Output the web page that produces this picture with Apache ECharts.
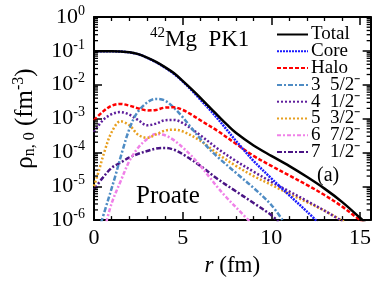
<!DOCTYPE html>
<html><head><meta charset="utf-8">
<script src="https://cdn.jsdelivr.net/npm/echarts@6/dist/echarts.min.js"></script>
<style>html,body{margin:0;padding:0;background:#fff}#c{width:374px;height:282px}</style>
</head><body><div id="c"></div>
<script>
const FONT = 'Liberation Serif';
// r (fm) grids and densities (fm^-3)
const rTotal = [0,1,2,2.5,3,3.5,4,4.5,5,5.5,6,6.5,7,7.5,8,9,10,11,12,13,14,15,15.3];
const total  = [9.8e-2,9.8e-2,9.1e-2,8.0e-2,6.3e-2,4.7e-2,3.3e-2,2.2e-2,1.3e-2,7.4e-3,4.1e-3,2.2e-3,1.2e-3,6.6e-4,3.8e-4,1.6e-4,7.9e-5,4.0e-5,1.9e-5,8.5e-6,3.4e-6,1.17e-6,8.3e-7];
const rCore = [0,1,2,2.5,3,3.5,4,4.5,5,5.5,6,6.5,7,7.5,8,8.5,9,10,11,12,12.6];
const core  = [9.7e-2,9.7e-2,9.0e-2,7.9e-2,6.2e-2,4.6e-2,3.2e-2,2.1e-2,1.25e-2,6.9e-3,3.6e-3,1.9e-3,9.5e-4,4.6e-4,2.2e-4,1.1e-4,5.6e-5,1.7e-5,5.5e-6,1.8e-6,9e-7];
const rHalo = [0,0.5,1,1.5,2,2.5,3,3.5,4,4.5,5,5.5,6,7,8,9,10,11,12,13,14,15,15.3];
const halo  = [8.9e-4,1.6e-3,2.4e-3,2.7e-3,2.4e-3,2.0e-3,1.74e-3,1.8e-3,2.1e-3,2.14e-3,1.8e-3,1.3e-3,8.9e-4,4.2e-4,1.8e-4,7.9e-5,4.0e-5,2.1e-5,1.1e-5,5.5e-6,2.5e-6,1.0e-6,7.9e-7];
const rS3 = [0.4,0.8,1.2,1.6,2.0,2.4,3.0,3.5,4.0,4.5,5.0,5.5,6.0,6.5,7,8,9,10,10.7];
const s3  = [8.5e-7,4.0e-6,2.0e-5,1.1e-4,5.0e-4,1.4e-3,3.0e-3,3.8e-3,3.4e-3,2.1e-3,1.1e-3,5.2e-4,2.5e-4,1.26e-4,7.1e-5,2.5e-5,8.9e-6,2.8e-6,8.9e-7];
const rS4 = [0,0.5,1,1.5,2,2.5,3,3.5,4,4.5,5,6,7,8,9,10,11,12,13,14];
const s4  = [4.0e-4,8.9e-4,1.35e-3,1.55e-3,1.3e-3,8.9e-4,6.3e-4,7.1e-4,8.9e-4,9.1e-4,7.4e-4,3.2e-4,1.26e-4,5.6e-5,2.7e-5,1.35e-5,7.1e-6,3.7e-6,1.9e-6,9.3e-7];
const rS5 = [0,0.3,0.6,1.0,1.5,2.0,2.5,3.0,3.5,4.0,4.5,5.0,6,7,8,9,10,11,12,13,14.1];
const s5  = [1.0e-5,3.2e-5,1.1e-4,4.0e-4,8.3e-4,6.3e-4,3.3e-4,2.7e-4,3.4e-4,4.4e-4,4.7e-4,4.2e-4,2.2e-4,8.9e-5,4.0e-5,2.0e-5,1.1e-5,6.0e-6,3.4e-6,1.9e-6,8.9e-7];
const rS6 = [0.7,1.0,1.5,2.0,2.5,3.0,3.5,4.0,4.5,5.0,5.5,6,6.5,7,7.5,8,8.8];
const s6  = [8.9e-7,3.2e-6,1.4e-5,5.6e-5,1.4e-4,2.5e-4,3.5e-4,3.2e-4,2.3e-4,1.4e-4,7.9e-5,4.0e-5,1.9e-5,8.9e-6,4.5e-6,2.4e-6,8.9e-7];
const rS7 = [0,0.5,1,1.5,2,2.5,3,3.5,4,4.5,5,6,7,8,9,10,10.4];
const s7  = [7.9e-6,1.8e-5,3.5e-5,5.0e-5,7.1e-5,9.1e-5,1.1e-4,1.3e-4,1.35e-4,1.2e-4,8.9e-5,4.0e-5,1.6e-5,7.1e-6,3.2e-6,1.4e-6,8.9e-7];

const names = ['Total','Core','Halo','3  5/2⁻','4  1/2⁻','5  3/2⁻','6  7/2⁻','7  1/2⁻'];
const xTicksMajor = 5;
const yMin = 1e-6, yMax = 1;

const zip = (a,b) => a.map((v,i)=>[v,b[i]]);
const defs = [
  [rTotal,total,'#000000','solid',2.5,10],
  [rCore,core,'#1a1aff',[2,1],2.5,9],
  [rHalo,halo,'#ff0000',[4,2],2.5,8],
  [rS3,s3,'#4f8cc4',[5,2,2,2],2.5,7],
  [rS4,s4,'#5e1f9c',[2,2],2.5,6],
  [rS5,s5,'#e8a020',[2,2],2.5,5],
  [rS6,s6,'#f080e8',[4,2,2,2],2.5,4],
  [rS7,s7,'#4a1485',[5,2,2,2],2.5,3]
];
const series = defs.map((d,i)=>({
  name: names[i], type:'line', data: zip(d[0],d[1]), symbol:'none', showSymbol:false,
  smooth:0.35, clip:true, z:d[5],
  lineStyle:{color:d[2], type:d[3], width:d[4]}, itemStyle:{color:d[2]}
}));
// minor log ticks (2..9 per decade) drawn on the log axis
const minorVals = [];
for (let e=-6;e<0;e++) for (let k=2;k<=9;k++) minorVals.push([0, k*Math.pow(10,e)]);
series.push({
  type:'custom', silent:true, z:20, clip:false, data:minorVals,
  renderItem(params, api){
    const y = api.coord([0, api.value(1)])[1];
    const cs = params.coordSys;
    return {type:'group', children:[
      {type:'line', shape:{x1:cs.x, y1:y, x2:cs.x+4, y2:y}, style:{stroke:'#000', lineWidth:1.3}},
      {type:'line', shape:{x1:cs.x+cs.width, y1:y, x2:cs.x+cs.width-4, y2:y}, style:{stroke:'#000', lineWidth:1.3}}
    ]};
  }
});

const xCommon = {
  type:'value', min:0, max:15.6, interval:xTicksMajor,
  axisLine:{show:true, onZero:false, lineStyle:{color:'#000', width:2}},
  axisTick:{show:true, inside:true, length:8, lineStyle:{color:'#000', width:1.5}},
  minorTick:{show:true, splitNumber:5, length:4, lineStyle:{color:'#000', width:1.3}},
  splitLine:{show:false}
};
const yCommon = {
  type:'log', logBase:10, min:yMin, max:yMax,
  axisLine:{show:true, onZero:false, lineStyle:{color:'#000', width:2}},
  axisTick:{show:true, inside:true, length:8, lineStyle:{color:'#000', width:1.5}},
  splitLine:{show:false}
};
const chart = echarts.init(document.getElementById('c'), null, {renderer:'canvas'});
chart.setOption({
  animation:false,
  backgroundColor:'#fff',
  grid:{left:94, right:3, top:17, bottom:54, containLabel:false},
  xAxis:[
    Object.assign({}, xCommon, {position:'bottom',
      axisLabel:{color:'#000', fontFamily:FONT, fontSize:22, margin:7},
      name:'{i|r} (fm)', nameLocation:'middle', nameGap:27,
      nameTextStyle:{color:'#000', fontFamily:FONT, fontSize:23,
        rich:{i:{fontStyle:'italic', fontFamily:FONT, fontSize:23, color:'#000'}}}}),
    Object.assign({}, xCommon, {position:'top', axisLabel:{show:false}})
  ],
  yAxis:[
    Object.assign({}, yCommon, {position:'left',
      axisLabel:{color:'#000', margin:9, formatter:(v)=>'{b|10}{s|'+Math.round(Math.log10(v))+'}',
        rich:{b:{fontFamily:FONT, fontSize:22, color:'#000'}, s:{fontFamily:FONT, fontSize:14, color:'#000', verticalAlign:'top', padding:[0,0,12,0]}}},
      name:'{r|ρ}{sub|n, 0}{r| (fm}{sup|-3}{r|)}', nameLocation:'middle', nameGap:55,
      nameTextStyle:{color:'#000', rich:{
        r:{fontFamily:FONT, fontSize:25, color:'#000'},
        sub:{fontFamily:FONT, fontSize:16, color:'#000', padding:[10,0,0,0]},
        sup:{fontFamily:FONT, fontSize:16, color:'#000', padding:[0,0,12,0]}}}}),
    Object.assign({}, yCommon, {position:'right', axisLabel:{show:false}})
  ],
  legend:{
    orient:'vertical', left:271, top:20, itemWidth:31, itemHeight:12, itemGap:-2.2,
    data:names, itemStyle:{opacity:0},
    textStyle:{color:'#000', fontFamily:FONT, fontSize:19, padding:[0,0,0,-2]}
  },
  graphic:[
    {type:'text', left:150, top:26, style:{text:'{s|42}{m|Mg  PK1}', rich:{
      s:{fontFamily:FONT, fontSize:15, fill:'#000', padding:[0,0,12,0]},
      m:{fontFamily:FONT, fontSize:23, fill:'#000'}}}},
    {type:'text', left:136, top:184, style:{text:'Proate', fontFamily:FONT, fontSize:25, fill:'#000'}},
    {type:'text', left:317, top:166, style:{text:'(a)', fontFamily:FONT, fontSize:20, fill:'#000'}}
  ],
  series
});
</script></body></html>
